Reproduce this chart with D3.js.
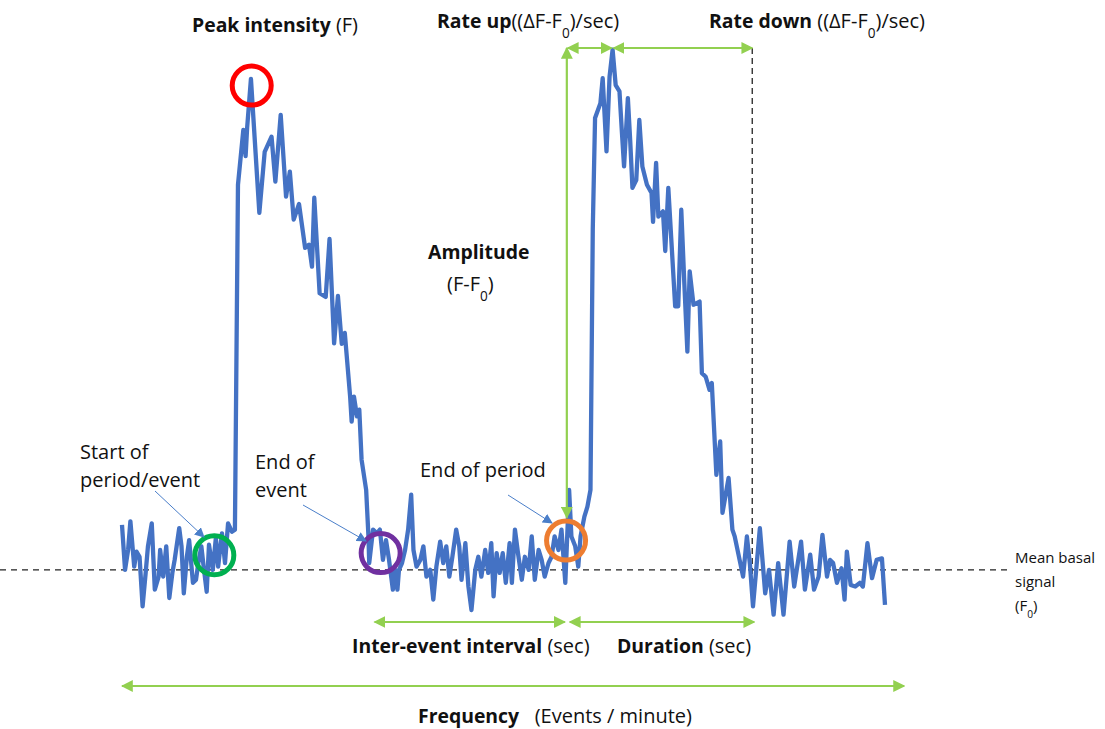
<!DOCTYPE html>
<html><head><meta charset="utf-8">
<script src="https://cdnjs.cloudflare.com/ajax/libs/d3/7.8.5/d3.min.js"></script>
<style>body{margin:0;background:#fff}svg{display:block}text{font-family:"Open Sans",Lato,sans-serif;fill:#111;white-space:pre}</style>
</head><body><svg id="c" width="1105" height="729"></svg>
<script>
// time (s) and signal (ΔF, a.u., 0 = mean basal F0)
const times = [0.0,0.4,0.8,1.1,1.6,1.9,2.3,2.7,3.1,3.4,3.9,4.3,4.8,5.0,5.4,5.8,6.2,6.6,6.9,7.5,7.8,8.1,8.5,8.8,9.3,9.7,10.0,10.4,10.7,11.1,11.4,11.9,12.3,12.6,13.1,13.5,13.9,14.4,14.8,
15.2,15.9,16.2,16.4,16.9,18.0,18.7,19.6,20.1,20.8,21.5,22.0,22.5,23.2,24.0,24.5,24.9,25.2,25.9,26.7,27.2,27.8,28.3,28.8,29.2,29.9,30.1,30.4,30.8,31.1,31.4,32.0,32.3,32.4,
32.9,33.4,33.8,34.2,34.6,35.0,35.5,35.8,36.1,36.3,36.7,37.1,37.5,37.9,38.2,38.6,39.1,39.5,39.9,40.4,40.8,41.2,41.7,42.1,42.5,42.9,43.3,43.8,44.2,44.5,45.0,45.4,45.8,46.3,46.7,47.1,47.6,48.0,48.4,48.7,49.1,49.5,49.9,50.3,50.8,51.1,51.5,51.9,52.4,52.8,53.3,53.7,54.1,54.6,55.0,55.4,55.9,56.3,56.7,57.2,57.6,58.1,58.6,58.9,59.4,59.8,60.1,60.6,61.0,61.4,
61.7,62.0,62.7,63.0,63.5,63.9,64.3,64.7,65.2,65.5,65.8,66.3,66.6,66.9,67.4,67.8,68.2,68.8,69.4,69.6,70.0,70.3,70.9,71.2,71.6,72.5,72.9,73.3,73.7,74.1,74.4,74.9,75.7,76.0,76.5,77.0,77.3,77.9,78.4,78.7,79.5,80.0,80.3,80.8,81.4,81.9,82.3,82.7,
83.6,84.3,84.8,85.4,86.0,86.7,87.5,88.1,89.0,89.5,90.2,90.7,91.3,91.8,92.4,92.8,93.2,93.7,94.3,94.7,95.0,95.5,96.1,96.7,97.1,97.7,98.3,98.9,99.6,100.0];
const signal = [8.6,0,3.8,9.3,0.6,3.5,2.5,-7.0,-0.6,4.5,8.9,-3.8,-1.3,3.8,-1.3,4.5,-5.4,-0.6,1.9,8.0,4.5,-4.5,2.5,5.7,-2.5,-1.9,1.3,4.5,0.6,-4.2,4.8,0,6.1,0.6,7.0,1.3,8.9,7.3,7.7,
73.8,84.3,79.3,84.7,94.1,68.4,80.1,83.0,74.4,87.2,71.5,76.3,67.1,70.1,61.7,62.3,58.1,71.3,53.0,52.3,63.4,43.4,52.5,43.3,45.4,33.2,28.4,33.2,29.4,30.7,21.1,15.3,6.4,1.3,
7.7,7.0,7.7,1.9,5.7,1.9,-3.8,0,-3.8,0,1.3,3.8,7.7,14.4,3.8,0.6,1.9,4.5,-1.3,0,-5.7,0.6,5.4,1.3,4.5,-1.3,2.5,7.7,4.5,-1.9,5.1,-3.2,-7.7,0,2.5,-1.3,3.8,-0.6,5.1,-5.1,3.2,-0.6,3.2,-2.5,5.1,-2.5,7.7,3.2,-1.9,2.5,0,6.4,-1.9,3.8,1.9,-1.3,1.3,2.5,6.4,3.8,7.7,-2.5,15.3,6.4,4.5,0.6,6.4,10.2,12.1,15.3,
65.2,86.6,89.4,94.2,80.2,94.5,99.7,92.9,91.7,84.3,77.3,90.4,82.4,73.2,74.7,86.2,77.3,73.8,72.2,66.7,78.0,67.7,68.7,61.1,73.2,50.5,50.5,69.0,54.9,41.8,57.2,50.8,51.4,37.7,37.0,34.5,35.8,18.2,24.6,10.9,17.6,7.7,6.4,2.9,-1.3,6.4,1.0,-7.0,
8.0,-4.5,0,-8.6,1.3,-8.6,5.4,-3.2,5.4,-3.8,2.9,-3.8,-1.3,6.7,-1.3,1.9,1.3,-2.5,0.3,-5.7,3.5,-2.9,-3.2,-2.5,-3.2,5.1,-1.6,1.9,2.2,-6.7];

// key time points (s) used by the annotations
const eventStart = 14.3, eventEnd = 33.5, periodEnd = 58.3, peak1 = 16.9, peak2 = 64.3, event2End = 82.6;

const svg = d3.select("#c");
const x = d3.scaleLinear().domain([0,100]).range([122,885]);
const y = d3.scaleLinear().domain([-10,100]).range([622,48]);

const defs = svg.append("defs");
function marker(id, color, size){
  defs.append("marker").attr("id",id).attr("viewBox","0 0 10 10").attr("refX",9).attr("refY",5)
    .attr("markerWidth",size).attr("markerHeight",size).attr("orient","auto-start-reverse")
    .attr("markerUnits","userSpaceOnUse")
    .append("path").attr("d","M0,0L10,5L0,10z").attr("fill",color);
}
marker("ga","#92D050",12);
marker("ba","#4A7EC9",10);

const green = "#92D050";
// baseline
svg.append("line").attr("x1",0).attr("x2",1010).attr("y1",y(0)).attr("y2",y(0))
  .attr("stroke","#222").attr("stroke-width",1.3).attr("stroke-dasharray","6,5");
// vertical dashed end of event 2
svg.append("line").attr("x1",x(event2End)).attr("x2",x(event2End)).attr("y1",y(100)).attr("y2",y(-7))
  .attr("stroke","#222").attr("stroke-width",1.3).attr("stroke-dasharray","6,4");

// signal
svg.append("path").datum(times.map((t,i)=>[t,signal[i]]))
  .attr("fill","none").attr("stroke","#4472C4").attr("stroke-width",4.3).attr("stroke-linejoin","round")
  .attr("d", d3.line().x(d=>x(d[0])).y(d=>y(d[1])));

function garrow(x1,y1,x2,y2){
  svg.append("line").attr("x1",x1).attr("y1",y1).attr("x2",x2).attr("y2",y2)
    .attr("stroke",green).attr("stroke-width",2.2)
    .attr("marker-start","url(#ga)").attr("marker-end","url(#ga)");
}
// amplitude vertical
garrow(x(periodEnd), y(100), x(periodEnd), y(10));
// rate up / rate down
garrow(x(periodEnd)+1, y(100), x(peak2)-1, y(100));
garrow(x(peak2)+1, y(100), x(event2End), y(100));
// inter-event / duration
garrow(x(eventEnd)-3, y(-10), x(periodEnd)-2, y(-10));
garrow(x(periodEnd)+3, y(-10), x(event2End)+2, y(-10));
// frequency
garrow(x(0), 686, x(102.5), 686);

// circles
const circles = [
  {t:peak1+0.1, v:92.8, c:"#FF0000"},
  {t:12.1, v:2.8, c:"#00B050"},
  {t:33.9, v:3.2, c:"#7030A0"},
  {t:58.2, v:5.6, c:"#ED7D31"}
];
svg.selectAll("circle.mk").data(circles).join("circle").attr("class","mk")
  .attr("cx",d=>x(d.t)).attr("cy",d=>y(d.v)).attr("r",19.5)
  .attr("fill","none").attr("stroke",d=>d.c).attr("stroke-width",5);

// thin blue pointer arrows
function barrow(x1,y1,x2,y2){
  svg.append("line").attr("x1",x1).attr("y1",y1).attr("x2",x2).attr("y2",y2)
    .attr("stroke","#4A7EC9").attr("stroke-width",1).attr("marker-end","url(#ba)");
}
barrow(155,491,204,537);
barrow(303,505,366,541);
barrow(508,495,552,523);

// texts
function rich(xp, yp, parts, size){
  const fs = size||20;
  const t = svg.append("text").attr("x",xp).attr("y",yp).attr("font-size",fs);
  parts.forEach(p=>{
    const s = t.append("tspan").text(p.s);
    if(p.b) s.attr("font-weight","bold").attr("font-size",fs*0.97);
    if(p.sub) s.attr("baseline-shift","sub").attr("font-size",fs*0.68);
  });
  return t;
}
rich(192,32,[{s:"Peak intensity",b:1},{s:" (F)"}]);
rich(437,28,[{s:"Rate up",b:1},{s:"((ΔF-F"},{s:"0",sub:1},{s:")/sec)"}]);
rich(709,28,[{s:"Rate down",b:1},{s:" ((ΔF-F"},{s:"0",sub:1},{s:")/sec)"}]);
rich(428,259,[{s:"Amplitude",b:1}]);
rich(447,291,[{s:"(F-F"},{s:"0",sub:1},{s:")"}]);
rich(80,459,[{s:"Start of"}]);
rich(80,487,[{s:"period/event"}]);
rich(255,469,[{s:"End of"}]);
rich(255,497,[{s:"event"}]);
rich(420,477,[{s:"End of period"}]);
rich(352,653,[{s:"Inter-event interval",b:1},{s:" (sec)"}]);
rich(617,653,[{s:"Duration",b:1},{s:" (sec)"}]);
rich(418,723,[{s:"Frequency",b:1},{s:"   (Events / minute)"}]);
rich(1015,563,[{s:"Mean basal"}],15);
rich(1015,587,[{s:"signal"}],15);
rich(1015,611,[{s:"(F"},{s:"0",sub:1},{s:")"}],15);
</script></body></html>
